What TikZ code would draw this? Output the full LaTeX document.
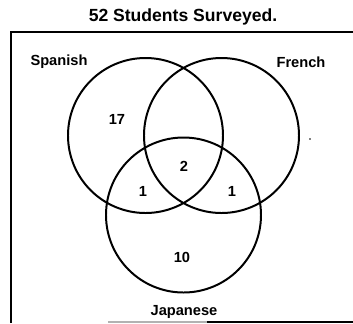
\documentclass[tikz,border=0pt]{standalone}
\usepackage{fontspec}
\setmainfont{Liberation Sans}
\usetikzlibrary{positioning}
\tikzset{
  venn/.style = {circle, draw, line width=1.7pt, inner sep=0pt, minimum size=4.65cm},
  setlabel/.style = {font=\fontsize{12.5}{14}\selectfont\bfseries},
  count/.style = {font=\fontsize{12.5}{14}\selectfont\bfseries},
}

\begin{document}
\begin{tikzpicture}[x=0.03cm, y=-0.03cm]

    \useasboundingbox (0,0) rectangle (353,323);

    % Frame
    \draw [line width=1.2pt] (11,323) -- (11,32) -- (353,32);
    \draw [line width=0.9pt, gray!60] (108,322) -- (207,322);
    \draw [line width=0.9pt] (207,322) -- (353,322);

    % Title
    \node (title) at (183,17) {\fontsize{15}{17}\selectfont\bfseries 52 Students Surveyed.};

    % Circles
    \node (spanish) [venn] at (145.5,135.5) {};
    \node (french) [venn] at (221.5,135.5) {};
    \node (japanese) [venn] at (183.5,215) {};

    % Set names
    \node (spanishlbl) [setlabel] at (59,62) {Spanish};
    \node (frenchlbl) [setlabel] at (301,62) {French};
    \node (japaneselbl) [setlabel] at (184,312) {Japanese};

    % Counts
    \node (onlyS) [count] at (117,119) {17};
    \node (all) [count] at (184,166) {2};
    \node (SJ) [count] at (143,191) {1};
    \node (FJ) [count] at (232,191) {1};
    \node (onlyJ) [count] at (182,257) {10};

    % stray dot
    \fill (310,139) circle (0.8);

\end{tikzpicture}
\end{document}
